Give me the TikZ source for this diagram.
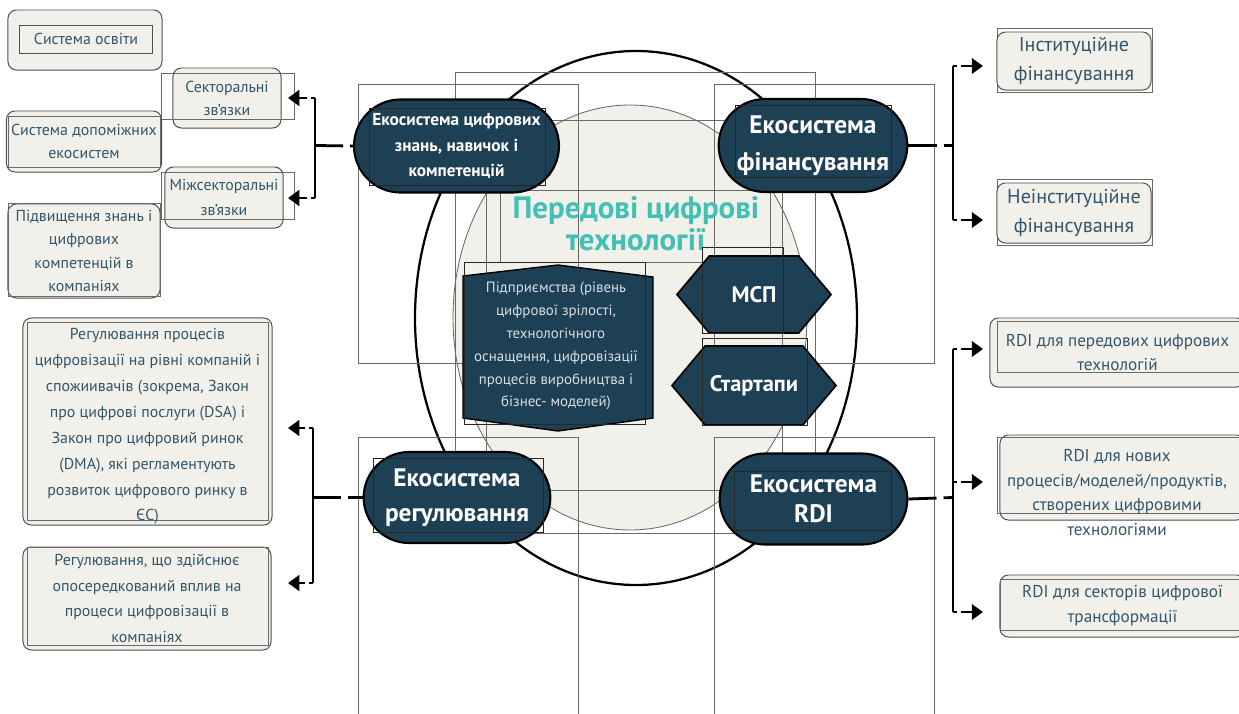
\documentclass[tikz,border=0pt]{standalone}
\usepackage{fontspec}
\setmainfont{PT Sans}
\usepackage{tikz}
\usetikzlibrary{arrows.meta, shapes.misc, shapes.symbols}
\definecolor{boxfill}{RGB}{241,240,235}
\definecolor{boxline}{RGB}{80,80,80}
\definecolor{boxtext}{RGB}{52,86,104}
\definecolor{ecofill}{RGB}{30,64,84}
\definecolor{headcol}{RGB}{66,192,180}
\definecolor{framecol}{RGB}{105,105,105}
\definecolor{firmtext}{RGB}{215,222,226}

\begin{document}
\begin{tikzpicture}[x=0.025cm, y=-0.025cm,
    box/.style={draw=boxline, fill=boxfill, rounded corners=6pt, line width=0.7pt, text=boxtext, align=center},
    frame/.style={draw=framecol, line width=0.5pt},
    inframe/.style={draw=black!85, line width=0.6pt},
    eco/.style={rounded rectangle, draw=black, line width=1.5pt, fill=ecofill, text=white, align=center},
    hexa/.style={signal, signal to=west and east, signal pointer angle=100, draw=black, line width=1.2pt, fill=ecofill, text=white, font=\bfseries\fontsize{16}{19}\selectfont},
    brk/.style={line width=2pt},
    arr/.style={brk, -{Triangle[length=8pt,width=11pt]}, dash pattern=on 3pt off 2.5pt on 40pt},
    lnk/.style={brk, dash pattern=on 20pt off 5pt on 40pt}]
    \useasboundingbox (0,0) rectangle (1239,713);

    \draw[draw=framecol, fill=boxfill, line width=0.6pt] (630,317.5) ellipse [x radius=177, y radius=212.5];
    \draw[line width=1.6pt] (636,318) ellipse [x radius=221, y radius=267];

    \draw[frame] (358,84) rectangle (578,363);
    \draw[frame] (714,84) rectangle (934,363);
    \draw[frame] (358,437) rectangle (578,720);
    \draw[frame] (714,437) rectangle (934,720);
    \draw[frame] (455,72) rectangle (815,533);
    \draw[frame] (486,120) rectangle (782,490);
    \draw[frame] (500,190) rectangle (770,262);

    \node(head) [text=headcol, align=center, font=\bfseries\fontsize{22}{23}\selectfont] at (636,224) {Передові цифрові\\технології};

    \draw[fill=ecofill, draw=black, line width=1pt] (463,276) -- (558,265) -- (653,277) -- (653,418) -- (558,431) -- (463,418) -- cycle;
    \node(firm) [text=firmtext, align=center, font=\fontsize{10.6}{16.3}\selectfont] at (556,346) {Підприємства (рівень\\цифрової зрілості,\\технологічного\\оснащення, цифровізації\\процесів виробництва і\\бізнес- моделей)};
    \draw[inframe] (464,262) rectangle (645,424);

    \node(msp) [hexa, minimum width=3.85cm, minimum height=1.925cm] at (754,294.5) {МСП};
    \node(startup) [hexa, minimum width=3.85cm, minimum height=1.975cm] at (754,385.5) {Стартапи};
    \draw[inframe] (702,247) rectangle (783,333);
    \draw[inframe] (702,338) rectangle (807,425);

    \node(eknow) [eco, minimum width=4.925cm, minimum height=2.325cm, font=\bfseries\fontsize{12.3}{18.4}\selectfont] at (456.5,146) {Екосистема цифрових\\знань, навичок і\\компетенцій};
    \draw[inframe] (369,108) rectangle (545,185);
    \node(efin) [eco, minimum width=4.95cm, minimum height=2.325cm, font=\bfseries\fontsize{18}{26}\selectfont] at (813,145.5) {Екосистема\\фінансування};
    \draw[inframe] (735,105) rectangle (891,177);
    \node(ereg) [eco, minimum width=4.9cm, minimum height=2.275cm, font=\bfseries\fontsize{18}{25}\selectfont] at (457,497.5) {Екосистема\\регулювання};
    \draw[inframe] (373,458) rectangle (543,532);
    \node(erdi) [eco, minimum width=4.925cm, minimum height=2.275cm, font=\bfseries\fontsize{18}{21}\selectfont] at (813.5,499) {Екосистема\\RDI};
    \draw[inframe] (734,471) rectangle (891,530);

    \node(edu) [box, minimum width=3.85cm, minimum height=1.5cm] at (85,40) {};
    \node(edutxt) [box, rounded corners=0pt, minimum width=3.3cm, minimum height=0.7cm, font=\fontsize{11.3}{12}\selectfont] at (86,39) {Система освіти};
    \node(sect) [box, minimum width=2.7cm, minimum height=1.5cm, font=\fontsize{11.3}{16.3}\selectfont] at (227,98) {Секторальні\\зв'язки};
    \draw[frame] (161,73) rectangle (294,119);
    \node(aux) [box, minimum width=3.8cm, minimum height=1.525cm, font=\fontsize{11.3}{16.3}\selectfont] at (84,141.5) {Система допоміжних\\екосистем};
    \draw[frame] (8,116) rectangle (160,167);
    \node(inter) [box, minimum width=2.7cm, minimum height=1.525cm, font=\fontsize{11.3}{17.7}\selectfont] at (224,197.5) {Міжсекторальні\\зв'язки};
    \draw[frame] (161,172) rectangle (294,219);
    \node(skills) [box, minimum width=3.8cm, minimum height=2.35cm, font=\fontsize{11.3}{16.5}\selectfont] at (84,251) {Підвищення знань і\\цифрових\\компетенцій в\\компаніях};
    \draw[frame] (8,203) rectangle (160,296);

    \node(regproc) [box, minimum width=6.225cm, minimum height=5.175cm] at (147.5,421.5) {};
    \draw[frame] (27,322) rectangle (268,520);
    \node(regproctxt) [text=boxtext, align=center, font=\fontsize{11.3}{18.4}\selectfont] at (147.5,426.5) {Регулювання процесів\\цифровізації на рівні компаній і\\спожиивачів (зокрема, Закон\\про цифрові послуги (DSA) і\\Закон про цифровий ринок\\(DMA), які регламентують\\розвиток цифрового ринку в\\ЄС)};
    \node(regind) [box, minimum width=6.2cm, minimum height=2.575cm, font=\fontsize{11.3}{18.2}\selectfont] at (147,598.5) {Регулювання, що здійснює\\опосередкований вплив на\\процеси цифровізації в\\компаніях};
    \draw[frame] (27,547) rectangle (268,645);

    \draw[frame] (997,28) rectangle (1152,92);
    \node(instfin) [box, minimum width=3.85cm, minimum height=1.45cm, font=\fontsize{14.3}{21}\selectfont] at (1074,61) {Інституційне\\фінансування};
    \draw[frame] (997,179) rectangle (1152,245);
    \node(noninst) [box, minimum width=3.85cm, minimum height=1.5cm, font=\fontsize{14.3}{21}\selectfont] at (1074,213) {Неінституційне\\фінансування};

    \node(rdiadv) [box, minimum width=6.375cm, minimum height=1.725cm, font=\fontsize{12.2}{17.7}\selectfont] at (1117.5,352.5) {RDI для передових цифрових\\технологій};
    \draw[frame] (997,321) rectangle (1245,372);
    \node(rdinew) [box, minimum width=6.125cm, minimum height=2.125cm] at (1122.5,477.5) {};
    \draw[frame] (997,437) rectangle (1245,513);
    \node(rdinewtxt) [text=boxtext, align=center, font=\fontsize{12.2}{17.7}\selectfont] at (1117,492.5) {RDI для нових\\процесів/моделей/продуктів,\\створених цифровими\\технологіями};
    \node(rdisect) [box, minimum width=6.125cm, minimum height=1.55cm, font=\fontsize{12.2}{17.7}\selectfont] at (1122.5,606) {RDI для секторів цифрової\\трансформації};
    \draw[frame] (1000,579) rectangle (1245,630);

    \coordinate(ltip) at (288,0);
    \coordinate(rtip) at (983,0);

    \coordinate(kb1) at (315,98);
    \coordinate(kb2) at (315,198);
    \coordinate(kbm) at (315,145.5);
    \draw[brk] (kb1) -- (kb2);
    \draw[arr] (kb1) -- (kb1 -| ltip);
    \draw[arr] (kb2) -- (kb2 -| ltip);
    \draw[lnk] (kbm) -- (eknow.west);

    \coordinate(rb1) at (313,428);
    \coordinate(rb2) at (313,583);
    \coordinate(rbm) at (313,497.5);
    \draw[brk] (rb1) -- (rb2);
    \draw[arr] (rb1) -- (rb1 -| ltip);
    \draw[arr] (rb2) -- (rb2 -| ltip);
    \draw[lnk] (rbm) -- (ereg.west);

    \coordinate(fb1) at (953,66);
    \coordinate(fb2) at (953,220);
    \coordinate(fbm) at (953,145.5);
    \draw[brk] (fb1) -- (fb2);
    \draw[arr] (fb1) -- (fb1 -| rtip);
    \draw[arr] (fb2) -- (fb2 -| rtip);
    \draw[lnk] (efin.east) -- (fbm);

    \coordinate(db1) at (953,349);
    \coordinate(db2) at (953,482);
    \coordinate(db3) at (953,612);
    \coordinate(dbm) at (953,497.5);
    \draw[brk] (db1) -- (db3);
    \draw[arr] (db1) -- (db1 -| rtip);
    \draw[arr] (db2) -- (db2 -| rtip);
    \draw[arr] (db3) -- (db3 -| rtip);
    \draw[lnk] (erdi.east) -- (dbm);
\end{tikzpicture}
\end{document}
